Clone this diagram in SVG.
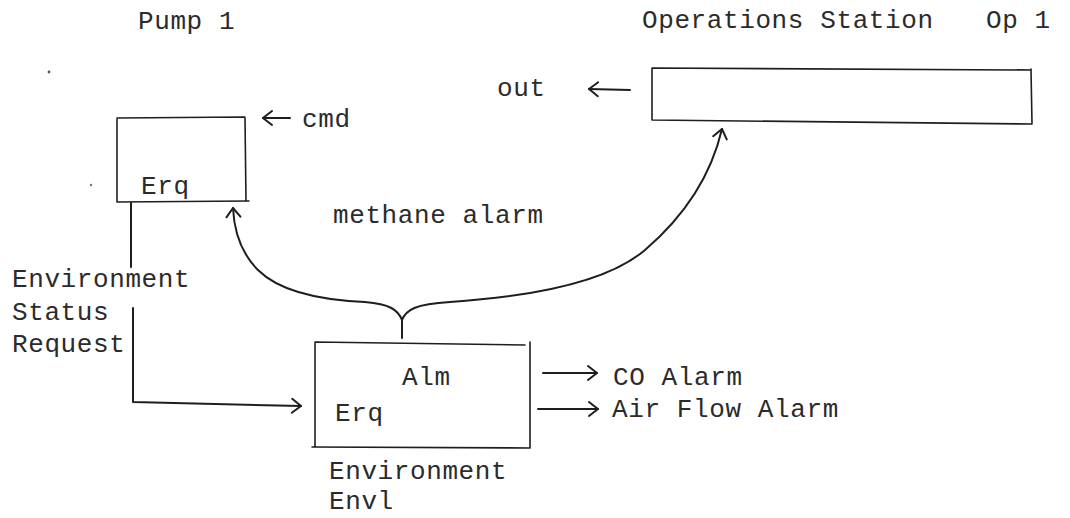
<svg xmlns="http://www.w3.org/2000/svg" width="1070" height="518" viewBox="0 0 1070 518">
  <style>
    .t { font-family: "Liberation Mono", "Courier New", monospace; font-size: 26px; letter-spacing: 0.6px; fill: #2b2b2b; }
    .box { fill: none; stroke: #1e1e1e; stroke-width: 1.6; stroke-linecap: round; }
    .ln { fill: none; stroke: #1e1e1e; stroke-width: 2; stroke-linecap: round; stroke-linejoin: round; }
  </style>
  <defs>
    <marker id="chev" markerUnits="userSpaceOnUse" markerWidth="20" markerHeight="20" viewBox="-12 -10 14 20" refX="0" refY="0" orient="auto">
      <path d="M-9,-7 L0,0 L-9,7" fill="none" stroke="#1e1e1e" stroke-width="2" stroke-linecap="round" stroke-linejoin="round"/>
    </marker>
  </defs>

  <rect width="1070" height="518" fill="#ffffff"/>

  <!-- Pump 1 -->
  <g id="pump1">
    <text class="t" x="138" y="29">Pump 1</text>
    <path class="box" d="M117,118 L245,117 M117,119 L117,202 M245,118 L246,201 M117,202 L249,201"/>
    <text class="t" x="141" y="194">Erq</text>
  </g>

  <!-- Operations Station -->
  <g id="ops">
    <text class="t" x="642" y="28">Operations Station</text>
    <text class="t" x="986" y="28">Op 1</text>
    <path class="box" d="M652,68 L1031,70 M652,68 L652,120 M1031,69 L1032,124 M652,120 L1032,124"/>
  </g>

  <!-- Environment -->
  <g id="env">
    <path class="box" d="M315,342 L525,345 M315,343 L315,446 M530,342 L530,448 M312,447 L530,448"/>
    <text class="t" x="402" y="385">Alm</text>
    <text class="t" x="335" y="421">Erq</text>
    <text class="t" x="329" y="479">Environment</text>
    <text class="t" x="329" y="509">Envl</text>
  </g>

  <!-- labels -->
  <g id="labels">
    <text class="t" x="302" y="127">cmd</text>
    <text class="t" x="497" y="96">out</text>
    <text class="t" x="333" y="223">methane alarm</text>
    <text class="t" x="12" y="287">Environment</text>
    <text class="t" x="12" y="320">Status</text>
    <text class="t" x="12" y="352">Request</text>
    <text class="t" x="613" y="385">CO Alarm</text>
    <text class="t" x="612" y="417">Air Flow Alarm</text>
  </g>

  <!-- connectors -->
  <g id="connectors">
    <!-- incoming command -->
    <path class="ln" d="M290,118 L263,118" marker-end="url(#chev)"/>
    <!-- station output -->
    <path class="ln" d="M630,90 L589,89" marker-end="url(#chev)"/>
    <!-- environment status request -->
    <path class="ln" d="M131,203 L131,267"/>
    <path class="ln" d="M133,308 L133,402 L301,406" marker-end="url(#chev)"/>
    <!-- methane alarm brace -->
    <path class="ln" d="M402,338 L402,320"/>
    <path class="ln" d="M402,320 C398,310 390,304 365,302 C320,300 280,292 258,270 C240,252 234,230 233,208" marker-end="url(#chev)"/>
    <path class="ln" d="M402,320 C406,310 415,304 450,302 C540,296 610,280 645,250 C680,220 710,180 722,129" marker-end="url(#chev)"/>
    <!-- alarm outputs -->
    <path class="ln" d="M543,373 L597,373" marker-end="url(#chev)"/>
    <path class="ln" d="M538,409 L598,409" marker-end="url(#chev)"/>
  </g>

  <!-- stray marks -->
  <circle cx="49" cy="72" r="1.4" fill="#555"/>
  <circle cx="91" cy="185" r="1.2" fill="#777"/>
</svg>
